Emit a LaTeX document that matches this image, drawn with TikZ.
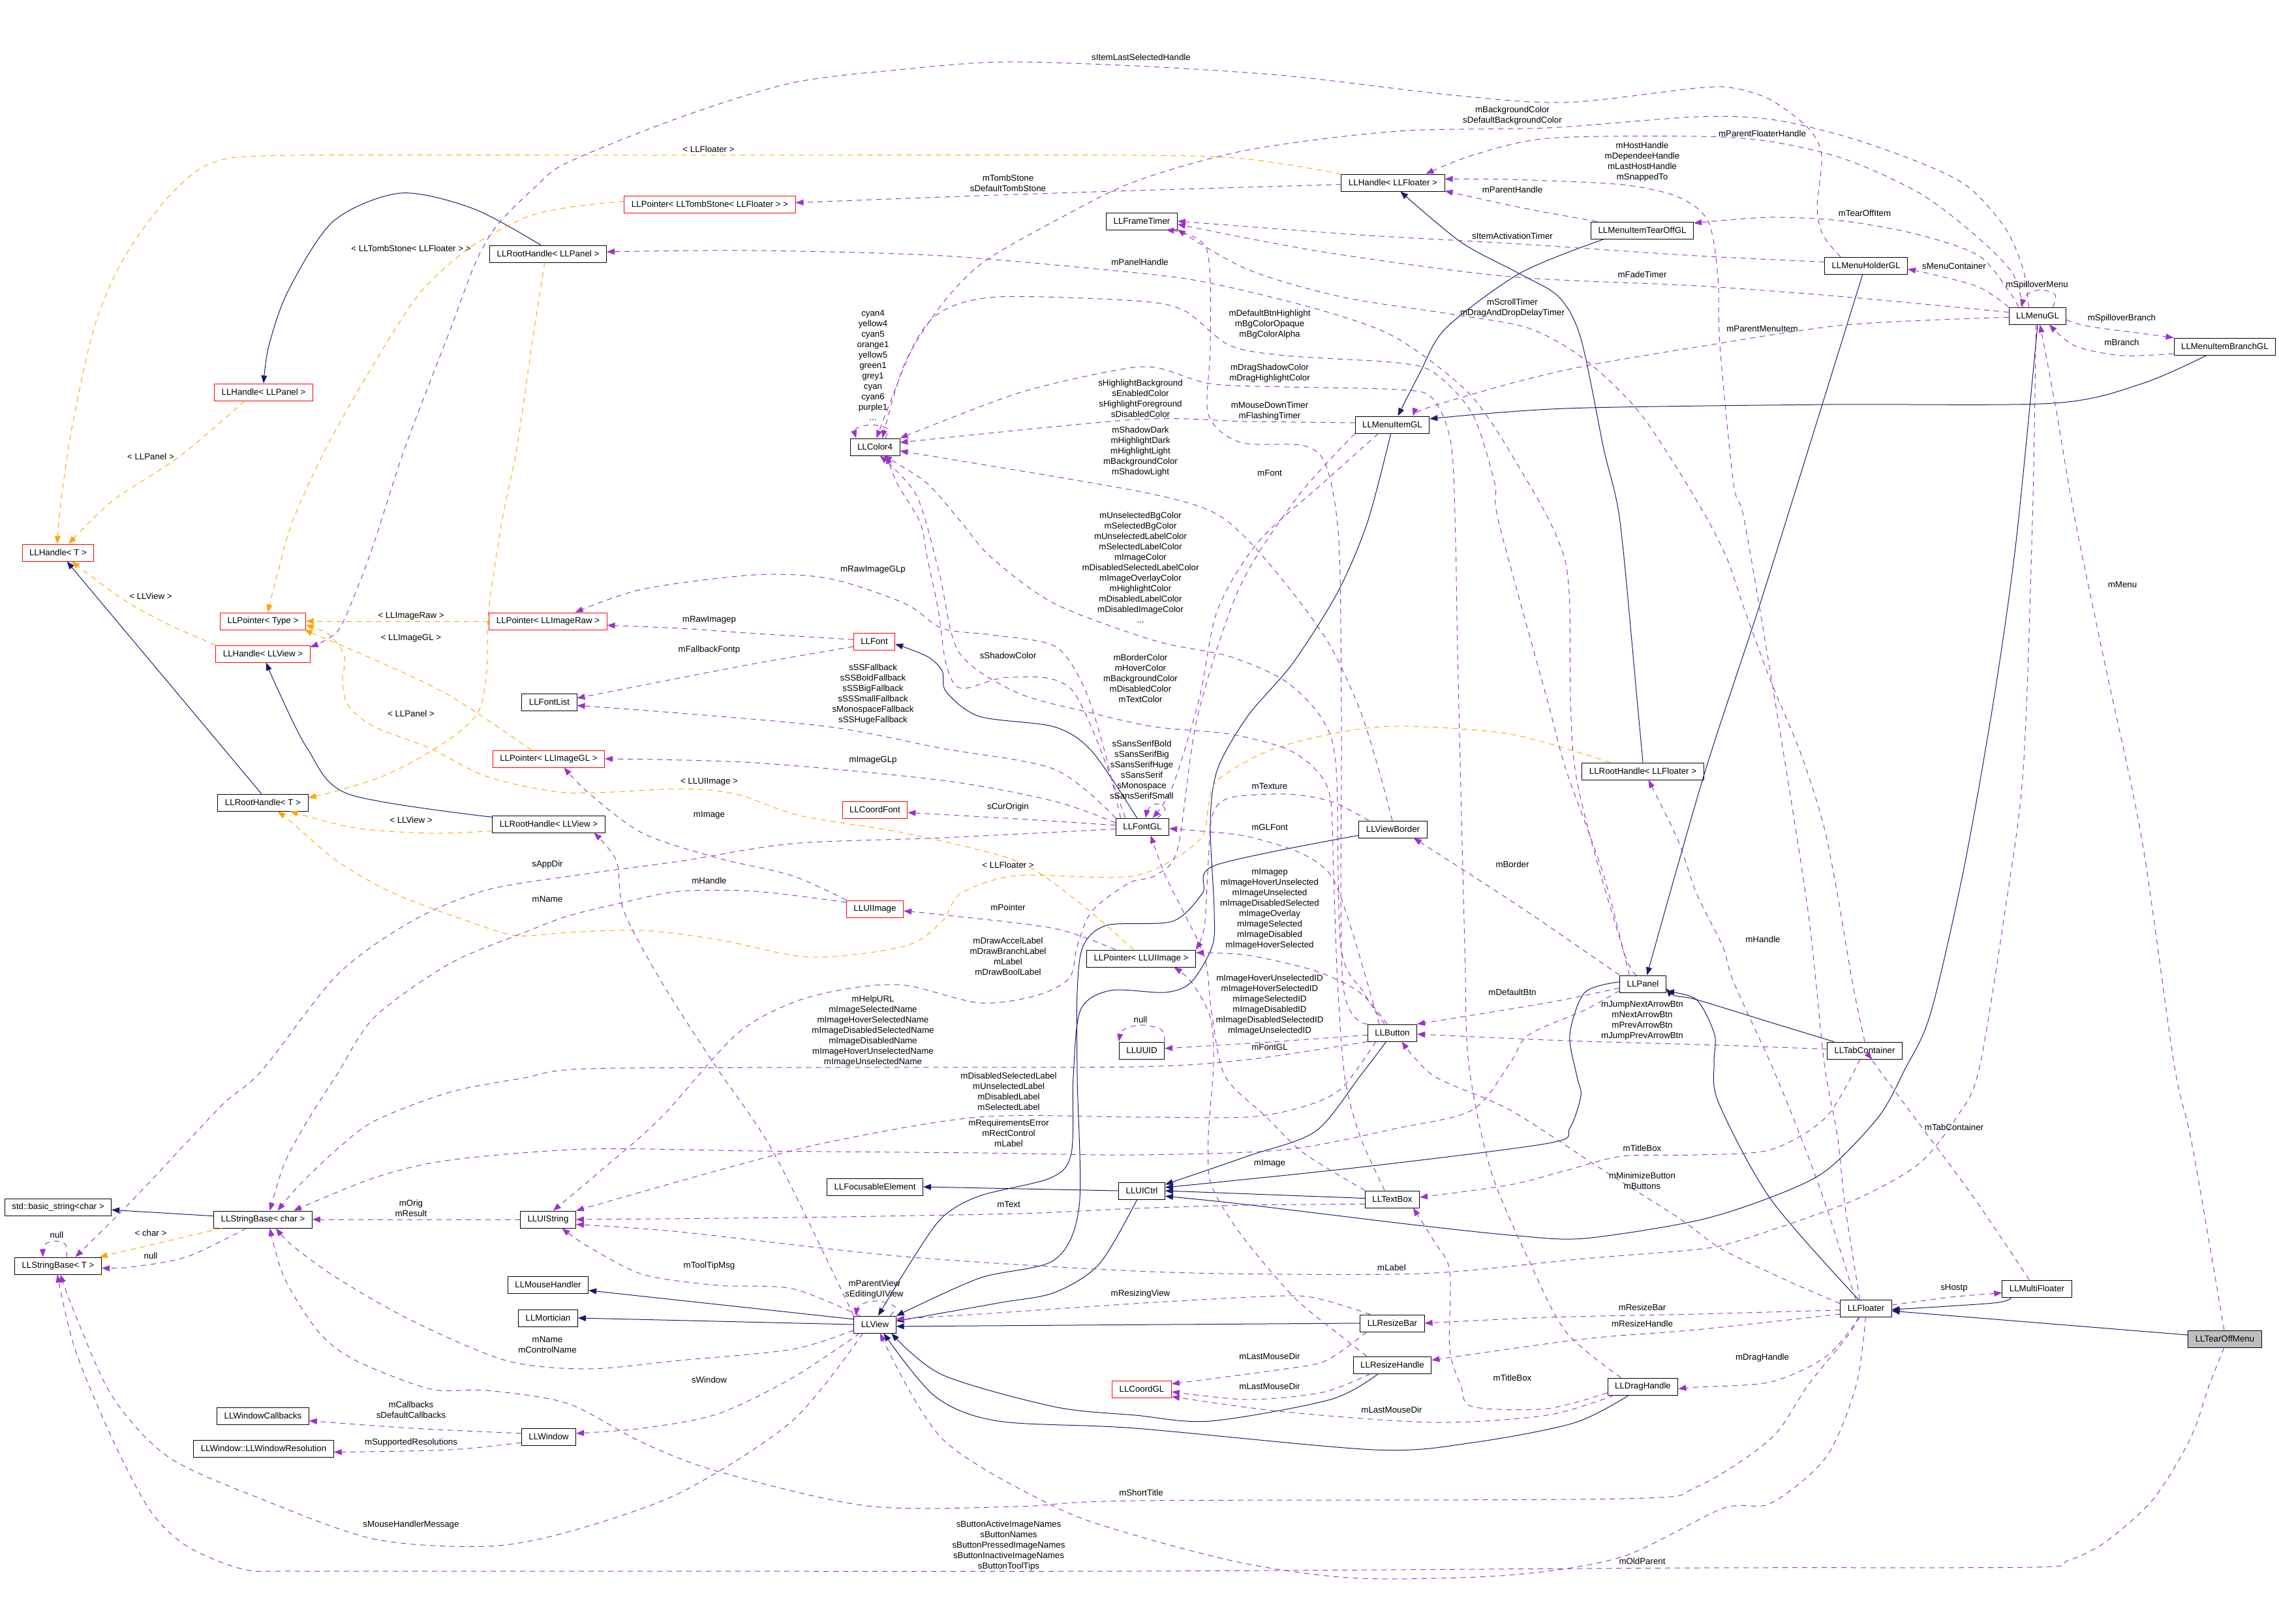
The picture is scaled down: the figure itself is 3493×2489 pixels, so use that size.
\documentclass[tikz,border=0pt]{standalone}
\usepackage{fontspec}
\setmainfont{Liberation Sans}
\usetikzlibrary{arrows.meta}
\definecolor{inhc}{HTML}{191970}
\definecolor{usec}{HTML}{9A32CD}
\definecolor{tplc}{HTML}{FFA500}
\definecolor{selc}{HTML}{BFBFBF}
\newcommand{\dfont}{\fontsize{6.65pt}{8pt}\selectfont}
\begin{document}
\begin{tikzpicture}[x=0.5pt,y=-0.5pt,
  clsbox/.style={draw=black, line width=0.5pt, fill=white, minimum height=13pt, inner xsep=5.5pt, inner ysep=0pt, font=\dfont},
  redbox/.style={clsbox, draw=red},
  selbox/.style={clsbox, fill=selc},
  lblnode/.style={font=\dfont, align=center, inner sep=0pt},
  inhedge/.style={draw=inhc, line width=0.5pt, -{Triangle[length=6pt,width=4.5pt]}},
  useedge/.style={draw=usec, line width=0.5pt, dash pattern=on 4pt off 3.5pt, -{Triangle[length=6pt,width=4.5pt]}},
  tpledge/.style={draw=tplc, line width=0.5pt, dash pattern=on 4pt off 3.5pt, -{Triangle[length=6pt,width=4.5pt]}}
]
\fill[white] (0,0) rectangle (3493,2489);
\useasboundingbox (0,0) rectangle (3493,2489);

% ---------- nodes ----------
\node[redbox] (hT) at (89,847) {LLHandle< T >};
\node[redbox] (hPanel) at (404,601) {LLHandle< LLPanel >};
\node[clsbox] (rhPanel) at (840,389) {LLRootHandle< LLPanel >};
\node[redbox] (pTomb) at (1088,313) {LLPointer< LLTombStone< LLFloater > >};
\node[clsbox] (hFloater) at (2135,280) {LLHandle< LLFloater >};
\node[clsbox] (frameTimer) at (1750,339) {LLFrameTimer};
\node[clsbox] (tearOffGL) at (2517,353) {LLMenuItemTearOffGL};
\node[clsbox] (menuHolder) at (2860,407) {LLMenuHolderGL};
\node[clsbox] (menuGL) at (3123,484) {LLMenuGL};
\node[clsbox] (branchGL) at (3410,531) {LLMenuItemBranchGL};
\node[clsbox] (color4) at (1341,685) {LLColor4};
\node[clsbox] (menuItemGL) at (2134,651) {LLMenuItemGL};
\node[redbox] (pType) at (403,952) {LLPointer< Type >};
\node[redbox] (hView) at (403,1002) {LLHandle< LLView >};
\node[redbox] (pRaw) at (840,952) {LLPointer< LLImageRaw >};
\node[redbox] (font) at (1340,983) {LLFont};
\node[clsbox] (fontList) at (842,1076) {LLFontList};
\node[redbox] (pGL) at (841,1163) {LLPointer< LLImageGL >};
\node[clsbox] (rhT) at (403,1230) {LLRootHandle< T >};
\node[clsbox] (rhView) at (841,1263) {LLRootHandle< LLView >};
\node[redbox] (coordFont) at (1341,1241) {LLCoordFont};
\node[clsbox] (fontGL) at (1751,1267) {LLFontGL};
\node[clsbox] (viewBorder) at (2135,1271) {LLViewBorder};
\node[clsbox] (rhFloater) at (2518,1182) {LLRootHandle< LLFloater >};
\node[redbox] (uiImage) at (1341,1393) {LLUIImage};
\node[clsbox] (pUIImage) at (1749,1469) {LLPointer< LLUIImage >};
\node[clsbox] (panel) at (2518,1508) {LLPanel};
\node[clsbox] (button) at (2134,1583) {LLButton};
\node[clsbox] (uuid) at (1750,1610) {LLUUID};
\node[clsbox] (tab) at (2858,1610) {LLTabContainer};
\node[clsbox] (basicString) at (89,1850) {std::basic\_string<char >};
\node[clsbox] (sbChar) at (403,1869) {LLStringBase< char >};
\node[clsbox] (uiString) at (840,1869) {LLUIString};
\node[clsbox] (sbT) at (89,1940) {LLStringBase< T >};
\node[clsbox] (focusable) at (1341,1819) {LLFocusableElement};
\node[clsbox] (uiCtrl) at (1750,1825) {LLUICtrl};
\node[clsbox] (textBox) at (2134,1838) {LLTextBox};
\node[clsbox] (mouseHandler) at (840,1969) {LLMouseHandler};
\node[clsbox] (mortician) at (840,2020) {LLMortician};
\node[clsbox] (view) at (1341,2030) {LLView};
\node[clsbox] (resizeBar) at (2134,2028) {LLResizeBar};
\node[redbox] (coordGL) at (1750,2129) {LLCoordGL};
\node[clsbox] (resizeHandle) at (2134,2092) {LLResizeHandle};
\node[clsbox] (dragHandle) at (2518,2125) {LLDragHandle};
\node[clsbox] (floater) at (2860,2005) {LLFloater};
\node[clsbox] (multiFloater) at (3122,1975) {LLMultiFloater};
\node[selbox] (tearOff) at (3410,2052) {LLTearOffMenu};
\node[clsbox] (winCallbacks) at (403,2170) {LLWindowCallbacks};
\node[clsbox] (winRes) at (404,2220) {LLWindow::LLWindowResolution};
\node[clsbox] (window) at (841,2202) {LLWindow};

% ---------- inheritance ----------
\draw[inhedge] plot[smooth] coordinates {(rhPanel.130) (726,320) (614,296) (511,339) (442,445) (412,530) (hPanel.north)};
\draw[inhedge] (rhT.100) -- (hT.-45);
\draw[inhedge] plot[smooth] coordinates {(rhView.173) (534,1217) (471,1147) (425,1055) (hView.-70)};
\draw[inhedge] plot[smooth] coordinates {(rhFloater.north) (2509,1071) (2483,800) (2458,688) (2423,519) (2389,455) (2326,418) (2239,371) (hFloater.-50)};
\draw[inhedge] plot[smooth] coordinates {(tearOffGL.-167) (2331,418) (2216,503) (2176,572) (menuItemGL.58)};
\draw[inhedge] plot[smooth] coordinates {(branchGL.-154) (3283,588) (3147,618) (2800,620) (2400,626) (menuItemGL.9)};
\draw[inhedge] plot[smooth] coordinates {(menuHolder.-111) (2737,800) (2691,946) (2611,1190) (panel.65)};
\draw[inhedge] plot[smooth] coordinates {(menuGL.south) (3090,830) (3056,1071) (3010,1331) (2959,1553) (2919,1640) (2879,1712) (2799,1794) (2714,1835) (2600,1871) (2429,1898) (2326,1894) (2165,1877) (1900,1845) (uiCtrl.-13)};
\draw[inhedge] plot[smooth] coordinates {(menuItemGL.-100) (2096,800) (2050,908) (1981,1017) (1912,1098) (1866,1179) (1855,1261) (1861,1396) (1858,1450) (1826,1505) (1786,1521) (1702,1518) (1656,1548) (1645,1650) (1642,1767) (1611,1805) (1501,1833) (1444,1866) (1398,1931) (view.70)};
\draw[inhedge] plot[smooth] coordinates {(viewBorder.-170) (1863,1326) (1843,1369) (1797,1412) (1697,1418) (1660,1450) (1651,1520) (1651,1650) (1654,1849) (1616,1931) (1501,1959) (view.22)};
\draw[inhedge] plot[smooth] coordinates {(uiCtrl.-118) (1685,1937) (1616,1981) (1530,1997) (view.9)};
\draw[inhedge] (resizeBar.west) -- (view.-5);
\draw[inhedge] plot[smooth] coordinates {(resizeHandle.-148) (2039,2145) (1855,2178) (1740,2169) (1616,2156) (1444,2107) (view.-28)};
\draw[inhedge] plot[smooth] coordinates {(dragHandle.-148) (2412,2181) (2257,2211) (2107,2222) (1740,2189) (1530,2178) (1433,2140) (view.-45)};
\draw[inhedge] (view.166) -- (mouseHandler.-8);
\draw[inhedge] (view.180) -- (mortician.east);
\draw[inhedge] (uiCtrl.west) -- (focusable.east);
\draw[inhedge] (sbChar.176) -- (basicString.-3);
\draw[inhedge] (textBox.178) -- (uiCtrl.east);
\draw[inhedge] plot[smooth] coordinates {(button.-125) (2084,1650) (2016,1734) (1912,1772) (uiCtrl.15)};
\draw[inhedge] plot[smooth] coordinates {(panel.175) (2429,1521) (2406,1586) (2417,1650) (2423,1679) (2406,1729) (2374,1752) (2084,1789) (uiCtrl.8)};
\draw[inhedge] plot[smooth] coordinates {(tab.164) (2714,1567) (2600,1532) (2567,1526) (panel.-11)};
\draw[inhedge] plot[smooth] coordinates {(floater.131) (2714,1838) (2634,1690) (2627,1630) (2628,1586) (2600,1532) (panel.-18)};
\draw[inhedge] plot[smooth] coordinates {(multiFloater.-161) (3056,1997) (floater.-3)};
\draw[inhedge] (tearOff.174) -- (floater.-6);
\draw[inhedge] plot[smooth] coordinates {(fontGL.122) (1674,1152) (1616,1114) (1501,1098) (1450,1060) (1444,1028) (1421,1006) (font.-7)};

% ---------- template instances ----------
\draw[tpledge] plot[smooth] coordinates {(hFloater.north west) (1912,244) (1740,238) (1000,238) (450,238) (327,249) (258,302) (189,397) (144,503) (109,662) (92,780) (hT.95)};
\draw[tpledge] plot[smooth] coordinates {(pTomb.178) (870,318) (804,334) (718,381) (643,450) (574,556) (499,688) (448,800) (425,881) (pType.62)};
\draw[tpledge] plot[smooth] coordinates {(hPanel.-155) (276,699) (172,768) (hT.40)};
\draw[tpledge] plot[smooth] coordinates {(hView.north west) (258,957) (189,919) (hT.-33)};
\draw[tpledge] (pRaw.west) -- (pType.east);
\draw[tpledge] plot[smooth] coordinates {(pGL.153) (689,1066) (574,1011) (pType.-12)};
\draw[tpledge] plot[smooth] coordinates {(pUIImage.131) (1656,1385) (1559,1320) (1387,1277) (1226,1250) (1128,1217) (1042,1209) (870,1215) (746,1190) (660,1147) (574,1114) (534,1082) (525,1044) (528,1006) (505,973) (pType.-5)};
\draw[tpledge] plot[smooth] coordinates {(rhPanel.-111) (815,529) (792,688) (769,800) (749,936) (746,1028) (735,1087) (706,1120) (649,1158) (586,1190) (517,1212) (rhT.6)};
\draw[tpledge] plot[smooth] coordinates {(rhView.187) (660,1277) (545,1269) (rhT.-18)};
\draw[tpledge] plot[smooth] coordinates {(rhFloater.165) (2314,1125) (2142,1113) (2039,1125) (1941,1152) (1866,1196) (1852,1234) (1838,1288) (1740,1342) (1559,1342) (1473,1369) (1444,1412) (1387,1450) (1243,1467) (1100,1440) (985,1426) (870,1429) (792,1434) (718,1412) (603,1369) (517,1320) (448,1261) (rhT.-31)};
\draw[tpledge] (sbChar.-168) -- (sbT.12);

% ---------- usage ----------
\draw[useedge] plot[smooth] coordinates {(menuHolder.161) (2794,360) (2785,318) (2792,238) (2771,196) (2714,153) (2657,135) (2600,135) (2400,157) (2228,146) (1970,116) (1740,101) (1536,95) (1387,106) (1214,127) (1042,180) (870,249) (821,286) (763,344) (729,402) (689,508) (620,688) (574,830) (545,908) (517,968) (hView.8)};
\draw[useedge] plot[smooth] coordinates {(menuGL.135) (3101,413) (3073,349) (3016,286) (2942,249) (2828,209) (2714,183) (2600,179) (2372,196) (2142,201) (1912,230) (1740,278) (1616,339) (1507,402) (1444,466) (1387,556) (color4.50)};
\draw[useedge] plot[smooth] coordinates {(menuGL.149) (3084,418) (3027,360) (2942,296) (2828,244) (2714,217) (2600,209) (2372,212) (2257,238) (hFloater.15)};
\draw[useedge] plot[smooth] coordinates {(hFloater.182) (1740,292) (1444,302) (pTomb.1)};
\draw[useedge] plot[smooth] coordinates {(floater.125) (2828,1849) (2816,1740) (2796,1630) (2771,1396) (2720,1071) (2674,800) (2657,741) (2636,529) (2633,424) (2618,339) (2572,302) (2486,283) (2314,275) (hFloater.4)};
\draw[useedge] plot[smooth] coordinates {(tearOffGL.169) (2330,318) (hFloater.-9)};
\draw[useedge] plot[smooth] coordinates {(menuGL.155) (3078,445) (3033,392) (2942,360) (2828,339) (2714,333) (tearOffGL.8)};
\draw[useedge] plot[smooth] coordinates {(menuHolder.175) (2600,392) (2314,373) (2084,360) (frameTimer.east)};
\draw[useedge] plot[smooth] coordinates {(menuGL.173) (2828,455) (2600,438) (2314,424) (2027,386) (frameTimer.-5)};
\draw[useedge] plot[smooth] coordinates {(tab.north) (2839,1505) (2816,1369) (2794,1261) (2759,1152) (2714,1044) (2674,935) (2646,854) (2601,768) (2515,635) (2429,551) (2343,503) (2228,482) (2056,455) (1912,413) (frameTimer.-13)};
\draw[useedge] plot[smooth] coordinates {(panel.125) (2486,1450) (2414,1179) (2405,908) (2389,830) (2343,741) (2257,609) (2142,519) (2027,476) (1855,434) (1740,418) (1444,392) (1157,384) (rhPanel.2)};
\draw[useedge] plot[smooth] coordinates {(menuGL.north west) (3033,440) (2960,420) (menuHolder.-5)};
\draw[useedge] plot[smooth] coordinates {(menuGL.30) (3150,452) (3128,444) (3106,452) (menuGL.152)};
\draw[useedge] plot[smooth] coordinates {(menuGL.-8) (3200,500) (3290,512) (branchGL.north west)};
\draw[useedge] plot[smooth] coordinates {(branchGL.188) (3252,545) (3180,530) (menuGL.-37)};
\draw[useedge] plot[smooth] coordinates {(menuGL.183) (2828,498) (2600,532) (2429,561) (2314,588) (2188,625) (menuItemGL.23)};
\draw[useedge] plot[smooth] coordinates {(panel.147) (2458,1342) (2400,1179) (2371,1071) (2297,800) (2291,741) (2257,635) (2199,572) (2142,556) (1970,545) (1884,529) (1815,476) (1740,461) (1530,455) (1444,477) (1400,530) (color4.80)};
\draw[useedge] plot[smooth] coordinates {(dragHandle.158) (2400,2041) (2343,1931) (2285,1794) (2251,1630) (2245,1450) (2234,1000) (2231,830) (2224,680) (2195,610) (2142,597) (1970,593) (1855,588) (1770,563) (1702,569) (1559,603) (color4.north east)};
\draw[useedge] plot[smooth] coordinates {(menuItemGL.177) (1912,646) (1740,643) (color4.10)};
\draw[useedge] plot[smooth] coordinates {(viewBorder.95) (2113,1179) (2084,1087) (2039,990) (1981,908) (1912,827) (1855,783) (1740,752) (color4.-9)};
\draw[useedge] plot[smooth] coordinates {(fontGL.153) (1645,1060) (1547,1038) (1473,1055) (1450,1017) (1438,935) (1421,854) (1410,800) (1375,741) (color4.-37)};
\draw[useedge] plot[smooth] coordinates {(textBox.131) (2084,1740) (2061,1650) (2050,1505) (2044,1342) (2039,1223) (2016,1179) (1970,1147) (1884,1125) (1770,1114) (1674,1093) (1560,1062) (1470,1000) (1440,880) (1405,760) (color4.-60)};
\draw[useedge] plot[smooth] coordinates {(button.131) (2090,1521) (2055,1450) (2048,1179) (2027,1103) (1970,1044) (1884,1006) (1770,982) (1616,925) (1519,854) (1473,800) (1420,740) (color4.-45)};
\draw[useedge] plot[smooth] coordinates {(button.north west) (2058,1505) (2056,1100) (2052,830) (2033,715) (1998,683) (1901,678) (1852,635) (1855,529) (1849,381) (frameTimer.-20)};
\draw[useedge] plot[smooth] coordinates {(menuItemGL.-148) (2027,741) (1929,830) (1866,935) (1838,1071) (1797,1206) (fontGL.41)};
\draw[useedge] plot[smooth] coordinates {(fontGL.158) (1690,1140) (1660,1050) (1616,990) (1519,973) (1444,963) (1387,925) (1272,887) (1157,881) (985,903) (pRaw.18)};
\draw[useedge] plot[smooth] coordinates {(font.175) (1157,971) (1042,963) (pRaw.-4)};
\draw[useedge] plot[smooth] coordinates {(font.194) (1157,1017) (1042,1039) (fontList.8)};
\draw[useedge] plot[smooth] coordinates {(fontGL.north west) (1616,1179) (1444,1147) (1272,1114) (1042,1093) (fontList.-7)};
\draw[useedge] plot[smooth] coordinates {(fontGL.172) (1616,1228) (1444,1196) (1157,1169) (pGL.east)};
\draw[useedge] plot[smooth] coordinates {(fontGL.177) (1559,1255) (coordFont.-5)};
\draw[useedge] plot[smooth] coordinates {(fontGL.30) (1786,1240) (1772,1232) (1760,1240) (fontGL.70)};
\draw[useedge] plot[smooth] coordinates {(viewBorder.160) (2039,1228) (1970,1217) (1884,1223) (1858,1250) (1852,1320) (1846,1420) (pUIImage.north east)};
\draw[useedge] plot[smooth] coordinates {(button.146) (2070,1420) (2040,1342) (1993,1307) (1912,1282) (1843,1274) (fontGL.-4)};
\draw[useedge] plot[smooth] coordinates {(panel.north west) (2330,1390) (viewBorder.-23)};
\draw[useedge] plot[smooth] coordinates {(button.120) (2084,1521) (2016,1488) (1912,1464) (pUIImage.6)};
\draw[useedge] plot[smooth] coordinates {(button.185) (1946,1597) (uuid.5)};
\draw[useedge] plot[smooth] coordinates {(uuid.north east) (1780,1578) (1750,1571) (1722,1578) (uuid.north west)};
\draw[useedge] plot[smooth] coordinates {(pUIImage.161) (1616,1423) (1444,1402) (uiImage.-4)};
\draw[useedge] plot[smooth] coordinates {(fontGL.185) (1444,1284) (1214,1293) (1042,1320) (900,1339) (746,1364) (631,1412) (517,1494) (402,1640) (344,1690) (287,1750) (230,1811) (172,1871) (sbT.27)};
\draw[useedge] plot[smooth] coordinates {(uiImage.167) (1157,1366) (1042,1366) (956,1383) (870,1404) (804,1429) (689,1477) (574,1559) (517,1646) (471,1718) (436,1783) (sbChar.52)};
\draw[useedge] plot[smooth] coordinates {(button.south west) (1912,1624) (1740,1635) (1300,1636) (900,1638) (804,1652) (689,1674) (574,1718) (517,1761) (459,1816) (sbChar.31)};
\draw[useedge] plot[smooth] coordinates {(button.-152) (2056,1668) (1998,1696) (1912,1712) (1740,1712) (1501,1712) (1272,1750) (1100,1794) (uiString.north east)};
\draw[useedge] plot[smooth] coordinates {(panel.196) (2429,1548) (2343,1586) (2314,1630) (2257,1701) (2142,1729) (1970,1762) (1740,1770) (1501,1767) (1157,1764) (900,1761) (689,1778) (574,1805) (sbChar.16)};
\draw[useedge] plot[smooth] coordinates {(textBox.190) (1912,1847) (1740,1852) (1559,1860) (1214,1866) (uiString.east)};
\draw[useedge] plot[smooth] coordinates {(menuItemGL.south west) (1990,760) (1900,900) (1835,1100) (1805,1300) (1770,1342) (1731,1353) (1674,1396) (1651,1450) (1639,1499) (1588,1526) (1501,1537) (1387,1510) (1301,1515) (1214,1537) (1128,1586) (1014,1712) (927,1789) (uiString.60)};
\draw[useedge] plot[smooth] coordinates {(view.150) (1214,1975) (1100,1970) (985,1953) (899,1909) (uiString.-32)};
\draw[useedge] plot[smooth] coordinates {(menuGL.-100) (3115,800) (3101,1179) (3073,1396) (3033,1640) (2999,1712) (2942,1783) (2856,1833) (2771,1866) (2657,1904) (2600,1915) (2429,1929) (2199,1951) (1970,1953) (1740,1948) (1387,1926) (1042,1888) (uiString.-10)};
\draw[useedge] plot[smooth] coordinates {(floater.170) (2742,1964) (2640,1915) (2572,1866) (2458,1794) (2314,1701) (2199,1650) (button.-43)};
\draw[useedge] plot[smooth] coordinates {(resizeBar.158) (2027,1992) (1970,1986) (1770,1996) (1501,2014) (view.14)};
\draw[useedge] plot[smooth] coordinates {(resizeHandle.161) (2061,2052) (1987,1992) (1924,1920) (1884,1866) (1855,1811) (1852,1740) (1860,1630) (1855,1559) (1826,1505) (pUIImage.-15)};
\draw[useedge] plot[smooth] coordinates {(textBox.north west) (1998,1767) (1941,1712) (1878,1650) (1858,1559) (1847,1470) (1815,1400) (1786,1342) (fontGL.-47)};
\draw[useedge] plot[smooth] coordinates {(resizeBar.-161) (2033,2085) (1970,2098) (coordGL.10)};
\draw[useedge] plot[smooth] coordinates {(resizeHandle.-158) (2027,2134) (1912,2145) (coordGL.-5)};
\draw[useedge] plot[smooth] coordinates {(dragHandle.-163) (2371,2169) (2199,2180) (1970,2164) (coordGL.-14)};
\draw[useedge] plot[smooth] coordinates {(dragHandle.190) (2371,2159) (2257,2156) (2239,2123) (2222,2068) (2222,1948) (2199,1904) (textBox.-23)};
\draw[useedge] plot[smooth] coordinates {(tab.-118) (2799,1712) (2714,1762) (2600,1770) (2486,1772) (2400,1794) (2314,1816) (textBox.4)};
\draw[useedge] plot[smooth] coordinates {(floater.184) (2600,2014) (2371,2019) (resizeBar.east)};
\draw[useedge] plot[smooth] coordinates {(floater.193) (2600,2038) (2429,2052) (resizeHandle.7)};
\draw[useedge] plot[smooth] coordinates {(floater.-125) (2799,2079) (2714,2118) (2600,2126) (dragHandle.-4)};
\draw[useedge] plot[smooth] coordinates {(floater.-131) (2833,2046) (2771,2123) (2714,2205) (2600,2279) (2486,2297) (1740,2300) (1559,2309) (1329,2308) (1100,2255) (985,2211) (870,2151) (746,2131) (660,2129) (545,2085) (488,2041) (436,1959) (sbChar.-52)};
\draw[useedge] plot[smooth] coordinates {(floater.-93) (2845,2123) (2799,2233) (2714,2304) (2640,2312) (2486,2386) (2314,2414) (2084,2419) (1912,2397) (1740,2353) (1616,2309) (1444,2205) (view.-60)};
\draw[useedge] plot[smooth] coordinates {(tearOff.-95) (3386,2123) (3357,2205) (3300,2298) (3226,2364) (3169,2392) (3113,2402) (2600,2403) (1740,2408) (900,2408) (459,2408) (373,2405) (287,2370) (230,2315) (172,2205) (115,2068) (sbT.-95)};
\draw[useedge] plot[smooth] coordinates {(view.-144) (1214,2178) (1042,2288) (870,2348) (746,2370) (574,2359) (402,2298) (258,2233) (172,2140) (115,2014) (sbT.-75)};
\draw[useedge] plot[smooth] coordinates {(view.195) (1214,2068) (1042,2085) (900,2098) (775,2085) (631,2024) (517,1959) (448,1909) (sbChar.-34)};
\draw[useedge] plot[smooth] coordinates {(view.north west) (1186,1767) (1094,1630) (1014,1505) (956,1396) (945,1320) (rhView.-11)};
\draw[useedge] plot[smooth] coordinates {(view.30) (1372,2003) (1345,1994) (1318,2000) (view.155)};
\draw[useedge] plot[smooth] coordinates {(view.-150) (1214,2112) (1100,2167) (985,2189) (window.7)};
\draw[useedge] plot[smooth] coordinates {(window.173) (631,2189) (winCallbacks.-6)};
\draw[useedge] plot[smooth] coordinates {(window.192) (689,2222) (winRes.-3)};
\draw[useedge] (uiString.west) -- (sbChar.east);
\draw[useedge] plot[smooth] coordinates {(tearOff.95) (3386,1904) (3357,1740) (3332,1630) (3283,1288) (3226,1017) (3181,800) (3150,620) (menuGL.-75)};
\draw[useedge] plot[smooth] coordinates {(floater.140) (2799,1849) (2759,1740) (2714,1630) (2657,1505) (2640,1450) (2600,1369) (2572,1288) (rhFloater.-58)};
\draw[useedge] plot[smooth] coordinates {(multiFloater.131) (3027,1838) (2942,1723) (2873,1630) (tab.-50)};
\draw[useedge] plot[smooth] coordinates {(floater.7) (2990,1988) (multiFloater.187)};
\draw[useedge] plot[smooth] coordinates {(panel.190) (2371,1537) (button.north east)};
\draw[useedge] plot[smooth] coordinates {(tab.178) (2640,1602) (2400,1595) (button.-3)};
\draw[useedge] plot[smooth] coordinates {(color4.40) (1360,657) (1336,651) (1312,657) (color4.155)};
\draw[useedge] plot[smooth] coordinates {(uiImage.north west) (1214,1342) (1100,1315) (985,1277) (904,1217) (pGL.-30)};
\draw[useedge] plot[smooth] coordinates {(sbChar.-152) (287,1926) (201,1942) (sbT.-3)};
\draw[useedge] plot[smooth] coordinates {(sbT.45) (100,1907) (84,1902) (68,1908) (sbT.150)};

% ---------- labels ----------
\node[lblnode] (l1) at (1749,88) {sItemLastSelectedHandle};
\node[lblnode] (l2) at (1086,229) {< LLFloater >};
\node[lblnode] (l3) at (2318,177) {mBackgroundColor\\sDefaultBackgroundColor};
\node[lblnode] (l4) at (2701,205) {mParentFloaterHandle};
\node[lblnode] (l5) at (2517,248) {mHostHandle\\mDependeeHandle\\mLastHostHandle\\mSnappedTo};
\node[lblnode] (l6) at (1545,281) {mTombStone\\sDefaultTombStone};
\node[lblnode] (l7) at (2318,291) {mParentHandle};
\node[lblnode] (l8) at (2858,327) {mTearOffItem};
\node[lblnode] (l9) at (2318,362) {sItemActivationTimer};
\node[lblnode] (l10) at (630,381) {< LLTombStone< LLFloater > >};
\node[lblnode] (l11) at (1747,402) {mPanelHandle};
\node[lblnode] (l12) at (2995,408) {sMenuContainer};
\node[lblnode] (l13) at (2517,421) {mFadeTimer};
\node[lblnode] (l14) at (3122,437) {mSpilloverMenu};
\node[lblnode] (l15) at (2318,472) {mScrollTimer\\mDragAndDropDelayTimer};
\node[lblnode] (l16) at (3252,488) {mSpilloverBranch};
\node[lblnode] (l17) at (1946,497) {mDefaultBtnHighlight\\mBgColorOpaque\\mBgColorAlpha};
\node[lblnode] (l18) at (2701,504) {mParentMenuItem};
\node[lblnode] (l19) at (3252,525) {mBranch};
\node[lblnode] (l20) at (1338,560) {cyan4\\yellow4\\cyan5\\orange1\\yellow5\\green1\\grey1\\cyan\\cyan6\\purple1\\...};
\node[lblnode] (l21) at (1946,572) {mDragShadowColor\\mDragHighlightColor};
\node[lblnode] (l22) at (1748,611) {sHighlightBackground\\sEnabledColor\\sHighlightForeground\\sDisabledColor};
\node[lblnode] (l23) at (1946,630) {mMouseDownTimer\\mFlashingTimer};
\node[lblnode] (l24) at (1748,692) {mShadowDark\\mHighlightDark\\mHighlightLight\\mBackgroundColor\\mShadowLight};
\node[lblnode] (l25) at (231,700) {< LLPanel >};
\node[lblnode] (l26) at (1946,725) {mFont};
\node[lblnode] (l27) at (1748,870) {mUnselectedBgColor\\mSelectedBgColor\\mUnselectedLabelColor\\mSelectedLabelColor\\mImageColor\\mDisabledSelectedLabelColor\\mImageOverlayColor\\mHighlightColor\\mDisabledLabelColor\\mDisabledImageColor\\...};
\node[lblnode] (l28) at (1338,873) {mRawImageGLp};
\node[lblnode] (l29) at (3253,896) {mMenu};
\node[lblnode] (l30) at (231,914) {< LLView >};
\node[lblnode] (l31) at (630,944) {< LLImageRaw >};
\node[lblnode] (l32) at (1087,950) {mRawImagep};
\node[lblnode] (l33) at (630,978) {< LLImageGL >};
\node[lblnode] (l34) at (1087,996) {mFallbackFontp};
\node[lblnode] (l35) at (1545,1005) {sShadowColor};
\node[lblnode] (l36) at (1748,1040) {mBorderColor\\mHoverColor\\mBackgroundColor\\mDisabledColor\\mTextColor};
\node[lblnode] (l37) at (1338,1064) {sSSFallback\\sSSBoldFallback\\sSSBigFallback\\sSSSmallFallback\\sMonospaceFallback\\sSSHugeFallback};
\node[lblnode] (l38) at (630,1094) {< LLPanel >};
\node[lblnode] (l39) at (1338,1165) {mImageGLp};
\node[lblnode] (l40) at (1750,1180) {sSansSerifBold\\sSansSerifBig\\sSansSerifHuge\\sSansSerif\\sMonospace\\sSansSerifSmall};
\node[lblnode] (l41) at (1087,1198) {< LLUIImage >};
\node[lblnode] (l42) at (1946,1205) {mTexture};
\node[lblnode] (l43) at (1545,1237) {sCurOrigin};
\node[lblnode] (l44) at (1087,1249) {mImage};
\node[lblnode] (l45) at (630,1257) {< LLView >};
\node[lblnode] (l46) at (1946,1268) {mGLFont};
\node[lblnode] (l47) at (839,1325) {sAppDir};
\node[lblnode] (l48) at (2318,1325) {mBorder};
\node[lblnode] (l49) at (1545,1326) {< LLFloater >};
\node[lblnode] (l50) at (1087,1350) {mHandle};
\node[lblnode] (l51) at (839,1378) {mName};
\node[lblnode] (l52) at (1545,1391) {mPointer};
\node[lblnode] (l53) at (1946,1393) {mImagep\\mImageHoverUnselected\\mImageUnselected\\mImageDisabledSelected\\mImageOverlay\\mImageSelected\\mImageDisabled\\mImageHoverSelected};
\node[lblnode] (l54) at (2702,1440) {mHandle};
\node[lblnode] (l55) at (1545,1466) {mDrawAccelLabel\\mDrawBranchLabel\\mLabel\\mDrawBoolLabel};
\node[lblnode] (l56) at (2318,1521) {mDefaultBtn};
\node[lblnode] (l57) at (1946,1540) {mImageHoverUnselectedID\\mImageHoverSelectedID\\mImageSelectedID\\mImageDisabledID\\mImageDisabledSelectedID\\mImageUnselectedID};
\node[lblnode] (l58) at (2517,1564) {mJumpNextArrowBtn\\mNextArrowBtn\\mPrevArrowBtn\\mJumpPrevArrowBtn};
\node[lblnode] (l59) at (1748,1563) {null};
\node[lblnode] (l60) at (1338,1580) {mHelpURL\\mImageSelectedName\\mImageHoverSelectedName\\mImageDisabledSelectedName\\mImageDisabledName\\mImageHoverUnselectedName\\mImageUnselectedName};
\node[lblnode] (l61) at (1946,1605) {mFontGL};
\node[lblnode] (l62) at (1546,1673) {mDisabledSelectedLabel\\mUnselectedLabel\\mDisabledLabel\\mSelectedLabel};
\node[lblnode] (l63) at (2995,1728) {mTabContainer};
\node[lblnode] (l64) at (1546,1737) {mRequirementsError\\mRectControl\\mLabel};
\node[lblnode] (l65) at (2517,1760) {mTitleBox};
\node[lblnode] (l66) at (1946,1783) {mImage};
\node[lblnode] (l67) at (2517,1810) {mMinimizeButton\\mButtons};
\node[lblnode] (l68) at (1546,1846) {mText};
\node[lblnode] (l69) at (630,1852) {mOrig\\mResult};
\node[lblnode] (l70) at (231,1890) {< char >};
\node[lblnode] (l71) at (87,1893) {null};
\node[lblnode] (l72) at (231,1925) {null};
\node[lblnode] (l73) at (1087,1940) {mToolTipMsg};
\node[lblnode] (l74) at (2133,1943) {mLabel};
\node[lblnode] (l75) at (2995,1974) {sHostp};
\node[lblnode] (l76) at (1340,1976) {mParentView\\sEditingUIView};
\node[lblnode] (l77) at (1748,1983) {mResizingView};
\node[lblnode] (l78) at (2517,2004) {mResizeBar};
\node[lblnode] (l79) at (2517,2029) {mResizeHandle};
\node[lblnode] (l80) at (839,2061) {mName\\mControlName};
\node[lblnode] (l81) at (1946,2079) {mLastMouseDir};
\node[lblnode] (l82) at (2701,2081) {mDragHandle};
\node[lblnode] (l83) at (2318,2112) {mTitleBox};
\node[lblnode] (l84) at (1087,2115) {sWindow};
\node[lblnode] (l85) at (1946,2125) {mLastMouseDir};
\node[lblnode] (l86) at (630,2161) {mCallbacks\\sDefaultCallbacks};
\node[lblnode] (l87) at (2133,2161) {mLastMouseDir};
\node[lblnode] (l88) at (630,2211) {mSupportedResolutions};
\node[lblnode] (l89) at (1749,2288) {mShortTitle};
\node[lblnode] (l90) at (630,2337) {sMouseHandlerMessage};
\node[lblnode] (l91) at (1546,2369) {sButtonActiveImageNames\\sButtonNames\\sButtonPressedImageNames\\sButtonInactiveImageNames\\sButtonToolTips};
\node[lblnode] (l92) at (2517,2393) {mOldParent};
\end{tikzpicture}
\end{document}
